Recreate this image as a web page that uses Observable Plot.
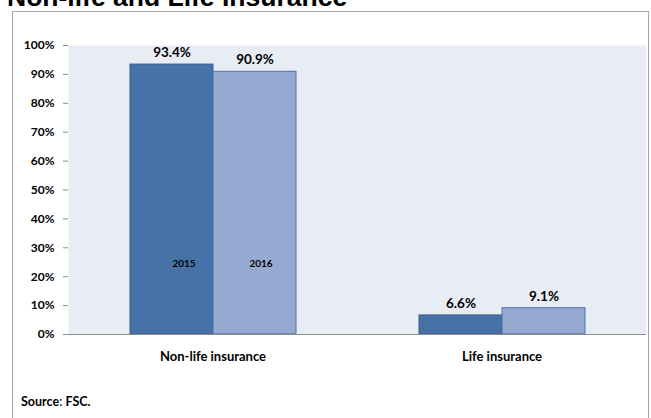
<!DOCTYPE html>
<html>
<head>
<meta charset="utf-8">
<script src="https://cdn.jsdelivr.net/npm/d3@7"></script>
<script src="https://cdn.jsdelivr.net/npm/@observablehq/plot@0.6"></script>
<style>
  body { margin: 0; background: white; }
  #wrap { position: relative; width: 651px; height: 418px; overflow: hidden; font-family: Lato, "Open Sans", sans-serif; }
  #chart { position: absolute; left: 0; top: 0; }
  #box { position: absolute; left: 12px; top: 11px; width: 635px; height: 420px; border: 1.5px solid #a6a6a6; pointer-events: none; }
  #title { position: absolute; left: 7px; top: -16px; font-family: "Liberation Sans", Arial, sans-serif; font-size: 26.5px; font-weight: bold; line-height: 26px; white-space: nowrap; color: #000; }
  #source { position: absolute; left: 21px; top: 394px; font-size: 12.5px; color: #000; }
</style>
</head>
<body>
<div id="wrap">
  <div id="chart"></div>
  <div id="box"></div>
  <div id="title">Non-life and Life Insurance</div>
  <div id="source"><b>Source</b>: <b>FSC.</b></div>
</div>
<script>
const categories = ["Non-life insurance", "Life insurance"];
const years = ["2015", "2016"];
const values2015 = [93.4, 6.6];
const values2016 = [90.9, 9.1];
const yTicks = [0, 10, 20, 30, 40, 50, 60, 70, 80, 90, 100];
const legendLevel = 24.3;

const data = [];
categories.forEach((c, i) => {
  data.push({category: c, year: "2015", value: values2015[i]});
  data.push({category: c, year: "2016", value: values2016[i]});
});
const legend2015 = [{category: categories[0], year: years[0]}];
const legend2016 = [{category: categories[0], year: years[1]}];

const colors = {fill: ["#4672a7", "#95a9d1"], stroke: ["#385e8e", "#4d71a5"]};

const W = 651, H = 418, mT = 45, mB = 84, mL = 67, mR = 5;

const chart = Plot.plot({
  width: W,
  height: H,
  marginTop: mT,
  marginBottom: mB,
  marginLeft: mL,
  marginRight: mR,
  style: {background: "transparent", fontFamily: "Lato, 'Open Sans', sans-serif", color: "#000"},
  fx: {domain: categories, padding: 0, label: null},
  x: {domain: years, paddingInner: 0, paddingOuter: 0.733, axis: null},
  y: {domain: [0, 100], axis: null},
  color: {domain: years, range: colors.fill},
  marks: [
    Plot.frame({fill: "#e8ecf5", stroke: null}),
    Plot.barY(data, {fx: "category", x: "year", y: "value", fill: "year", stroke: d => d.year === "2015" ? colors.stroke[0] : colors.stroke[1], strokeWidth: 1}),
    Plot.text(data, {fx: "category", x: "year", y: "value", text: d => d.value.toFixed(1) + "%", dy: -12, fontWeight: "bold", fontSize: 13.5}),
    Plot.text(legend2015, {fx: "category", x: "year", y: () => legendLevel, text: "year", dx: 12, fontWeight: "bold", fontSize: 10}),
    Plot.text(legend2016, {fx: "category", x: "year", y: () => legendLevel, text: "year", dx: 6, fontWeight: "bold", fontSize: 10}),
    Plot.ruleY([0], {stroke: "#8c8c8c", strokeWidth: 1.2}),
    Plot.axisY({ticks: yTicks, tickFormat: d => d + "%", tickSize: 5, tickPadding: 9, fontWeight: "bold", fontSize: 12, stroke: "#8c8c8c", label: null, line: true}),
    Plot.axisFx({anchor: "bottom", tickSize: 0, tickPadding: 17, fontWeight: "bold", fontSize: 13, label: null})
  ]
});
document.getElementById("chart").appendChild(chart);
</script>
</body>
</html>
